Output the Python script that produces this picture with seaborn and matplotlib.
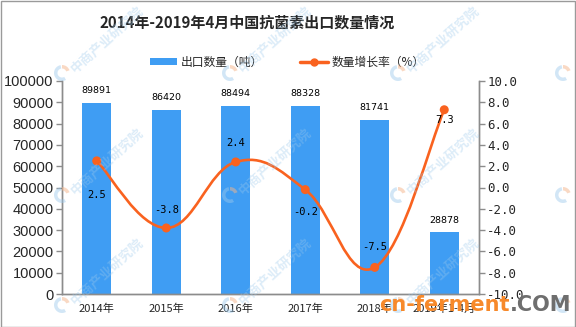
import numpy as np
import pandas as pd
import matplotlib
matplotlib.use("Agg")
import matplotlib.pyplot as plt
import seaborn as sns
from matplotlib.path import Path
from matplotlib.patches import PathPatch, Rectangle, Patch, Wedge
from matplotlib.lines import Line2D
from matplotlib.ticker import FixedLocator, FuncFormatter

# ---- data ----
categories = ["2014年", "2015年", "2016年", "2017年", "2018年", "2019年1-4月"]
export_volume = [89891, 86420, 88494, 88328, 81741, 28878]
growth_rate = [2.5, -3.8, 2.4, -0.2, -7.5, 7.3]
volume_ticks = [0, 10000, 20000, 30000, 40000, 50000, 60000, 70000, 80000, 90000, 100000]
rate_ticks = [-10, -8, -6, -4, -2, 0, 2, 4, 6, 8, 10]
# vertical pixel offsets of the growth-rate labels (positive = above the point)
rate_label_dy = [-34, 18, 19, -22, 20, -10]

BLUE = "#3F9DF3"
ORANGE = "#F9621F"
GREY = "#8C8C8C"

sns.set_theme(style="white")
plt.rcParams["font.family"] = ["Noto Sans CJK SC", "DejaVu Sans"]

W, H = 576, 327
fig = plt.figure(figsize=(W / 100, H / 100), dpi=100)
fig.patch.set_facecolor("white")

ax = fig.add_axes([62 / W, 1 - 294 / H, 417 / W, 213 / H])
df = pd.DataFrame({"year": categories, "volume": export_volume, "rate": growth_rate})
sns.barplot(data=df, x="year", y="volume", color=BLUE, saturation=1,
            width=0.42, linewidth=0, ax=ax, zorder=2)

ax2 = ax.twinx()

# smooth curve through the growth-rate points (cubic Bezier segments)
xs = np.arange(len(growth_rate), dtype=float)
ys = np.array(growth_rate, dtype=float)
s = 0.2
verts = [(xs[0], ys[0])]
codes = [Path.MOVETO]
n = len(xs)
for i in range(n - 1):
    p0 = np.array([xs[max(i - 1, 0)], ys[max(i - 1, 0)]])
    p1 = np.array([xs[i], ys[i]])
    p2 = np.array([xs[i + 1], ys[i + 1]])
    p3 = np.array([xs[min(i + 2, n - 1)], ys[min(i + 2, n - 1)]])
    c1 = p1 + (p2 - p0) * s
    c2 = p2 - (p3 - p1) * s
    verts += [tuple(c1), tuple(c2), tuple(p2)]
    codes += [Path.CURVE4] * 3
ax2.add_patch(PathPatch(Path(verts, codes), facecolor="none", edgecolor=ORANGE,
                        lw=1.9, zorder=3, capstyle="round"))
sns.scatterplot(x=xs, y=ys, ax=ax2, color=ORANGE, s=42, edgecolor="none",
                zorder=4, legend=False)

# axes ranges and ticks
ax.set_xlim(-0.5, len(categories) - 0.5)
ax.set_ylim(0, 100000)
ax2.set_ylim(-10, 10)
ax.set_xticks(range(len(categories)))
ax.set_xticklabels(categories, fontsize=8)
ax.xaxis.set_minor_locator(FixedLocator(np.arange(-0.5, len(categories), 1.0)))
ax.tick_params(axis="x", which="major", length=0, pad=7)
ax.tick_params(axis="x", which="minor", length=4, color=GREY, width=1, direction="out")
ax.set_yticks(volume_ticks)
ax.set_yticklabels([str(v) for v in volume_ticks], fontsize=10.5,
                   family="Liberation Sans")
ax.tick_params(axis="y", length=4, color=GREY, width=1, direction="out", pad=2,
               left=True)
ax2.set_yticks(rate_ticks)
ax2.yaxis.set_major_formatter(FuncFormatter(lambda v, p: f"{v:.1f}"))
for t in ax2.get_yticklabels():
    t.set_fontsize(9)
    t.set_family("DejaVu Sans Mono")
ax2.tick_params(axis="y", length=4, color=GREY, width=1, direction="out", pad=2,
                right=True)
ax.set_xlabel("")
ax.set_ylabel("")
ax2.set_ylabel("")
for a in (ax, ax2):
    for side in ("left", "right", "bottom"):
        a.spines[side].set_color(GREY)
        a.spines[side].set_linewidth(1)
    a.spines["top"].set_visible(False)
ax.grid(False)
ax2.grid(False)

# value labels
for i, v in enumerate(export_volume):
    ax.annotate(str(v), (i, v), xytext=(0, 12), textcoords="offset pixels",
                ha="center", va="center", fontsize=6.8, family="DejaVu Sans",
                color="black", zorder=5)
for i, v in enumerate(growth_rate):
    ax2.annotate(f"{v:.1f}", (i, v), xytext=(0, rate_label_dy[i]),
                 textcoords="offset pixels", ha="center", va="center",
                 fontsize=7.5, family="DejaVu Sans Mono", color="black", zorder=5)

# title and legend
fig.text(247 / W, 1 - 23 / H, "2014年-2019年4月中国抗菌素出口数量情况",
         ha="center", va="center", fontsize=10.8, fontweight="bold")
handles = [Patch(facecolor=BLUE, edgecolor="none"),
           Line2D([], [], color=ORANGE, lw=2.5, marker="o", markersize=5)]
fig.legend(handles, ["出口数量（吨）", "数量增长率（%）"], ncol=2, frameon=False,
           loc="center", bbox_to_anchor=(287 / W, 1 - 62 / H), fontsize=8.5,
           handlelength=2.3, handleheight=0.5, handletextpad=0.3,
           columnspacing=3.2)

# background watermark of the publisher
wm_cols = [62, 230, 398, 563]
wm_rows = [73, 195, 305]
for r, yy in enumerate(wm_rows):
    for c, xx in enumerate(wm_cols):
        cx, cy = xx / W, 1 - yy / H
        fig.patches.append(Wedge((xx, H - yy), 8, 100, 300, width=3.5,
                                 transform=None, facecolor="#9cc9ec",
                                 edgecolor="none", alpha=0.45, zorder=10))
        fig.patches.append(Wedge((xx, H - yy), 8, 20, 90, width=3.5,
                                 transform=None, facecolor="#f5b58a",
                                 edgecolor="none", alpha=0.5, zorder=10))
        if c < len(wm_cols) - 1:
            fig.text(cx + 11 / W, cy + 2 / H, "中商产业研究院", rotation=42,
                     rotation_mode="anchor", ha="left", va="center",
                     fontsize=9.5, fontweight="bold", color="#9cc9ec",
                     alpha=0.35, zorder=10)

fig.text(510 / W, 1 - 311 / H, "cn-ferment", ha="right", va="baseline",
         fontsize=15, fontweight="bold", color="#F7892A", family="DejaVu Sans",
         zorder=11)
fig.text(510 / W, 1 - 311 / H, ".COM", ha="left", va="baseline",
         fontsize=15, fontweight="bold", color="#6e6e6e", family="DejaVu Sans",
         zorder=11)

# outer frame
fig.patches.append(Rectangle((0.5, 0.5), W - 2, H - 1.5, transform=None,
                             facecolor="none", edgecolor="#9a9a9a", lw=1,
                             zorder=12))

fig.savefig("out.png", dpi=100)
